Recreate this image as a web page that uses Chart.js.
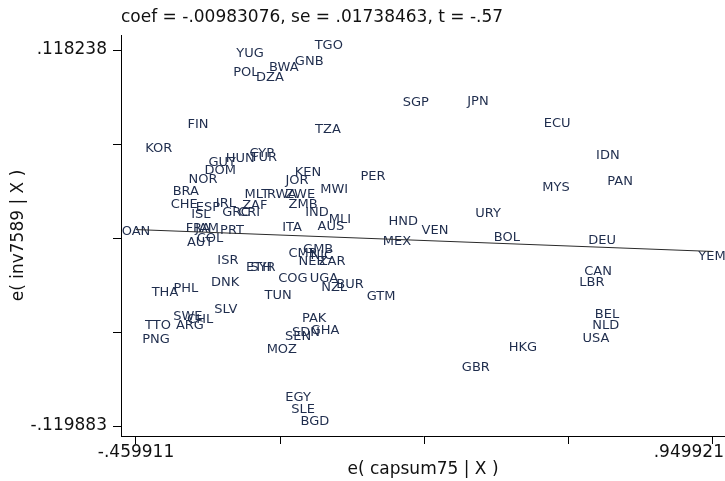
<!DOCTYPE html>
<html>
<head>
<meta charset="utf-8">
<title>avplot capsum75</title>
<script src="https://cdn.jsdelivr.net/npm/chart.js@4.4.0/dist/chart.umd.min.js"></script>
<style>
  html, body { margin: 0; padding: 0; background: #fff; }
  #wrap { width: 725px; height: 481px; position: relative; }
</style>
</head>
<body>
<div id="wrap"><canvas id="avplot"></canvas></div>
<script>
// country codes with their residuals
const countries = [
  'YUG', 'TGO', 'GNB', 'BWA', 'POL', 'DZA', 'SGP', 'JPN', 'FIN', 'ECU',
  'TZA', 'KOR', 'CYP', 'TUR', 'HUN', 'GUY', 'IDN', 'DOM', 'KEN', 'PER',
  'NOR', 'JOR', 'PAN', 'MYS', 'MWI', 'BRA', 'MLT', 'RWA', 'ZWE', 'IRL',
  'CHE', 'ZMB', 'ZAF', 'ESP', 'GRC', 'CRI', 'IND', 'URY', 'ISL', 'MLI',
  'HND', 'AUS', 'ITA', 'FRA', 'JAM', 'PRT', 'VEN', 'OAN', 'BOL', 'COL',
  'DEU', 'MEX', 'AUT', 'GMB', 'CMR', 'NIC', 'YEM', 'ISR', 'NER', 'ZAR',
  'SYR', 'ETH', 'CAN', 'COG', 'UGA', 'DNK', 'LBR', 'BUR', 'NZL', 'PHL',
  'THA', 'TUN', 'GTM', 'SLV', 'BEL', 'SWE', 'PAK', 'CHL', 'TTO', 'ARG',
  'NLD', 'GHA', 'SDN', 'SEN', 'USA', 'PNG', 'HKG', 'MOZ', 'GBR', 'EGY',
  'SLE', 'BGD'
];
// e( capsum75 | X )
const capsumResid = [
  -.181, .012, -.036, -.098, -.191, -.132, .225, .377, -.308, .571,
  .010, -.404, -.152, -.147, -.205, -.249, .695, -.254, -.039, .120,
  -.296, -.066, .725, .568, .025, -.338, -.164, -.103, -.058, -.240,
  -.342, -.051, -.169, -.284, -.215, -.183, -.017, .402, -.301, .039,
  .194, .017, -.078, -.308, -.286, -.225, .272, -.4599, .448, -.279,
  .681, .179, -.303, -.014, -.051, -.005, .9499, -.235, -.029, .020,
  -.149, -.159, .671, -.076, .000, -.242, .656, .064, .025, -.338,
  -.389, -.112, .140, -.240, .693, -.333, -.024, -.303, -.406, -.328,
  .690, .003, -.044, -.063, .666, -.411, .487, -.103, .372, -.063,
  -.051, -.022
];
// e( inv7589 | X )
const invResid = [
  .1132, .1182, .1081, .1043, .1011, .0980, .0821, .0828, .0682, .0688,
  .0650, .0530, .0498, .0473, .0467, .0441, .0486, .0391, .0378, .0353,
  .0334, .0327, .0321, .0283, .0270, .0258, .0239, .0239, .0239, .0182,
  .0175, .0175, .0169, .0156, .0125, .0125, .0125, .0118, .0112, .0080,
  .0068, .0036, .0030, .0023, .0023, .0011, .0011, .0004, -.0034, -.0040,
  -.0053, -.0059, -.0065, -.0110, -.0135, -.0148, -.0154, -.0179, -.0186, -.0186,
  -.0224, -.0224, -.0249, -.0293, -.0293, -.0319, -.0319, -.0331, -.0350, -.0357,
  -.0382, -.0401, -.0407, -.0490, -.0521, -.0534, -.0547, -.0553, -.0591, -.0591,
  -.0591, -.0623, -.0635, -.0661, -.0673, -.0680, -.0730, -.0743, -.0857, -.1047,
  -.1123, -.1199
];

const xTickValues = [-.459911, -.107453, .245005, .597463, .949921];
const xTickLabels = ['-.459911', '', '', '', '.949921'];
const yTickValues = [-.119883, -.060353, -.000823, .058708, .118238];
const yTickLabels = ['-.119883', '', '', '', '.118238'];

const coef = -.00983076;
const titleText = 'coef = -.00983076, se = .01738463, t = -.57';

const FONT = '"DejaVu Sans", sans-serif';

const points = countries.map((c, i) => ({ x: capsumResid[i], y: invResid[i] }));
const xMin = Math.min(...capsumResid);
const xMax = Math.max(...capsumResid);
const fitLine = [{ x: xMin, y: coef * xMin }, { x: xMax, y: coef * xMax }];

// country codes drawn in place of markers
const labelPlugin = {
  id: 'countryLabels',
  beforeDatasetsDraw(chart) {
    const ctx = chart.ctx;
    const meta = chart.getDatasetMeta(0);
    ctx.save();
    ctx.font = '13px ' + FONT;
    ctx.fillStyle = '#1f2d4d';
    ctx.textAlign = 'center';
    ctx.textBaseline = 'middle';
    meta.data.forEach((pt, i) => ctx.fillText(countries[i], pt.x, pt.y - 4));
    ctx.restore();
  }
};

// title and the x tick labels (last one kept inside the canvas like stata does)
const textPlugin = {
  id: 'stataText',
  afterDraw(chart) {
    const ctx = chart.ctx;
    const xs = chart.scales.x;
    ctx.save();
    ctx.fillStyle = '#111';
    ctx.font = '17px ' + FONT;
    ctx.textBaseline = 'middle';
    ctx.textAlign = 'left';
    ctx.fillText(titleText, chart.chartArea.left, 18);
    ctx.textAlign = 'center';
    xTickValues.forEach((v, i) => {
      if (!xTickLabels[i]) return;
      const w = ctx.measureText(xTickLabels[i]).width;
      const px = Math.min(xs.getPixelForValue(v), chart.width - w / 2 - 1);
      ctx.fillText(xTickLabels[i], px, xs.top + 17);
    });
    ctx.restore();
  }
};

new Chart(document.getElementById('avplot'), {
  type: 'scatter',
  data: {
    datasets: [
      {
        label: 'countries',
        data: points,
        pointRadius: 0,
        pointHoverRadius: 0
      },
      {
        type: 'line',
        label: 'fit',
        data: fitLine,
        borderColor: '#2a2a2a',
        borderWidth: 1,
        pointRadius: 0,
        fill: false
      }
    ]
  },
  options: {
    responsive: true,
    maintainAspectRatio: false,
    animation: false,
    events: [],
    layout: { padding: { top: 35, left: 0, right: 0, bottom: 0 } },
    plugins: {
      legend: { display: false },
      tooltip: { enabled: false }
    },
    scales: {
      x: {
        type: 'linear',
        min: -.496625,
        max: .981735,
        afterBuildTicks: s => { s.ticks = xTickValues.map(v => ({ value: v })); },
        afterFit: s => { s.height = 45; },
        ticks: { display: false, autoSkip: false },
        grid: { drawOnChartArea: false, drawTicks: true, tickLength: 8, color: '#000' },
        border: { display: true, color: '#000', width: 1 },
        title: {
          display: true,
          text: 'e( capsum75 | X )',
          color: '#111',
          font: { family: FONT, size: 17 },
          padding: { top: 0, bottom: 1 }
        }
      },
      y: {
        type: 'linear',
        min: -.126216,
        max: .127742,
        afterBuildTicks: s => { s.ticks = yTickValues.map(v => ({ value: v })); },
        afterFit: s => { s.width = 121; },
        ticks: {
          autoSkip: false,
          padding: 6,
          color: '#111',
          font: { family: FONT, size: 17 },
          callback: (v, i) => yTickLabels[i]
        },
        grid: { drawOnChartArea: false, drawTicks: true, tickLength: 8, color: '#000' },
        border: { display: true, color: '#000', width: 1 },
        title: {
          display: true,
          text: 'e( inv7589 | X )',
          color: '#111',
          font: { family: FONT, size: 17 },
          padding: { top: 8, bottom: 0 }
        }
      }
    }
  },
  plugins: [labelPlugin, textPlugin]
});
</script>
</body>
</html>
